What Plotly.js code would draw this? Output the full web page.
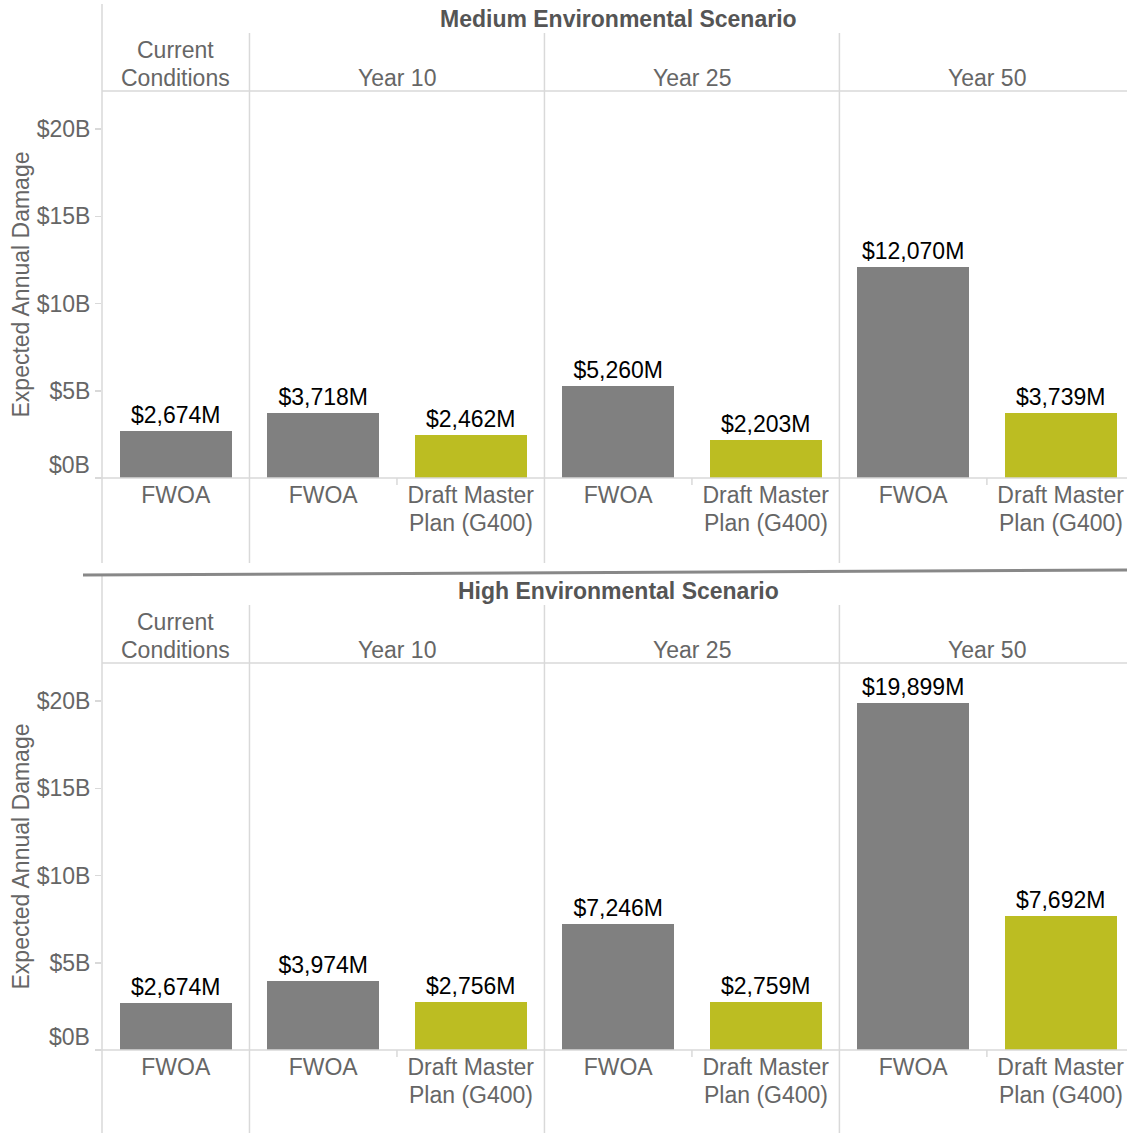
<!DOCTYPE html>
<html>
<head>
<meta charset="utf-8">
<script src="https://cdn.plot.ly/plotly-3.0.1.min.js"></script>
<style>
  html, body { margin: 0; padding: 0; background: #fff; }
  #chart { width: 1127px; height: 1133px; }
</style>
</head>
<body>
<div id="chart"></div>
<script>
// ---- data ----
const scenarios = ['Medium Environmental Scenario', 'High Environmental Scenario'];
const groups = ['Current<br>Conditions', 'Year 10', 'Year 25', 'Year 50'];
const groupOf = [0, 1, 1, 2, 2, 3, 3];
const categories = ['FWOA', 'FWOA', 'Draft Master<br>Plan (G400)', 'FWOA', 'Draft Master<br>Plan (G400)', 'FWOA', 'Draft Master<br>Plan (G400)'];
const mediumValues = [2674, 3718, 2462, 5260, 2203, 12070, 3739];   // $M
const highValues   = [2674, 3974, 2756, 7246, 2759, 19899, 7692];   // $M
const yTickVals = [0, 5000, 10000, 15000, 20000];
const yTickText = ['$0B', '$5B', '$10B', '$15B', '$20B'];
const yTitle = 'Expected Annual Damage';

// ---- styling / layout helpers ----
const W = 1127, H = 1133;
const FONT = 'Arial, "Liberation Sans", sans-serif';
const FS = 23;
const LINE = 27.5;
const GRID = '#d9d9d9';
const TXT = '#666666';
const colorFor = c => c.startsWith('FWOA') ? '#808080' : '#bcbd22';
const px = x => x / W;
const py = y => 1 - y / H;

const xs = categories.map((c, i) => i);
const catLines = categories.map(c => c.split('<br>'));
const groupCenters = groups.map((g, gi) => {
  const idx = xs.filter(i => groupOf[i] === gi);
  return (idx[0] + idx[idx.length - 1]) / 2;
});
const groupBounds = [];
for (let i = 1; i < xs.length; i++) if (groupOf[i] !== groupOf[i - 1]) groupBounds.push(i - 0.5);
const innerBounds = [];
for (let i = 1; i < xs.length; i++) if (groupOf[i] === groupOf[i - 1]) innerBounds.push(i - 0.5);

const panels = [
  { title: 19, hTop: 33, hLine: 91, zero: 478, bottom: 563, leftTop: 4 },
  { title: 591, hTop: 605, hLine: 663, zero: 1050, bottom: 1133, leftTop: 576 }
];
const values = [mediumValues, highValues];
const yRange = [0, 22180];

const traces = [];
const annotations = [];
const shapes = [];

panels.forEach((p, k) => {
  const xa = k === 0 ? 'x' : 'x2';
  const ya = k === 0 ? 'y' : 'y2';
  traces.push({
    type: 'bar',
    x: xs,
    y: values[k],
    xaxis: xa, yaxis: ya,
    width: 0.76,
    marker: { color: categories.map(colorFor) },
    texttemplate: '$%{y:,.0f}M',
    textposition: 'outside',
    textfont: { family: FONT, size: FS, color: '#000' },
    cliponaxis: false,
    hoverinfo: 'skip',
    showlegend: false
  });

  annotations.push({
    xref: 'paper', yref: 'paper', x: px(618), y: py(p.title),
    xanchor: 'center', yanchor: 'middle', showarrow: false,
    text: '<b>' + scenarios[k] + '</b>',
    font: { family: FONT, size: 23, color: '#555' }
  });
  // group headers, one annotation per line, bottom-aligned at header line
  groups.forEach((g, gi) => {
    const lines = g.split('<br>');
    lines.forEach((ln, li) => {
      const fromBottom = lines.length - 1 - li;
      annotations.push({
        xref: xa, yref: 'paper', x: groupCenters[gi],
        y: py(p.hLine - 13.5 - fromBottom * LINE),
        xanchor: 'center', yanchor: 'middle', showarrow: false,
        text: ln, font: { family: FONT, size: FS, color: TXT }
      });
    });
  });
  // second lines of category labels
  catLines.forEach((lines, i) => {
    lines.slice(1).forEach((ln, li) => {
      annotations.push({
        xref: xa, yref: 'paper', x: xs[i], y: py(p.zero + 17 + (li + 1) * LINE),
        xanchor: 'center', yanchor: 'middle', showarrow: false,
        text: ln, font: { family: FONT, size: FS, color: TXT }
      });
    });
  });
  annotations.push({
    xref: 'paper', yref: ya, x: px(92), y: 0, xanchor: 'right', yanchor: 'middle',
    yshift: 13, showarrow: false, text: yTickText[0],
    font: { family: FONT, size: FS, color: TXT }
  });
  annotations.push({
    xref: 'paper', yref: 'paper', x: px(20), y: py((p.hLine + p.zero) / 2),
    xanchor: 'center', yanchor: 'middle', showarrow: false, textangle: -90,
    text: yTitle, font: { family: FONT, size: FS, color: TXT }
  });

  shapes.push({ type: 'line', xref: 'paper', yref: 'paper', x0: px(102), x1: px(102),
    y0: py(p.leftTop), y1: py(p.bottom), line: { color: GRID, width: 1.5 } });
  groupBounds.forEach(b => shapes.push({ type: 'line', xref: xa, yref: 'paper', x0: b, x1: b,
    y0: py(p.hTop), y1: py(p.bottom), line: { color: GRID, width: 1.5 } }));
  shapes.push({ type: 'line', xref: 'paper', yref: 'paper', x0: px(102), x1: 1,
    y0: py(p.hLine), y1: py(p.hLine), line: { color: GRID, width: 1.5 } });
  shapes.push({ type: 'line', xref: 'paper', yref: 'paper', x0: px(95), x1: 1,
    y0: py(p.zero), y1: py(p.zero), line: { color: GRID, width: 1.5 } });
  innerBounds.forEach(b => shapes.push({ type: 'line', xref: xa, yref: 'paper', x0: b, x1: b,
    y0: py(p.zero), y1: py(p.zero + 7), line: { color: GRID, width: 1.5 } }));
});

shapes.push({ type: 'line', xref: 'paper', yref: 'paper', x0: px(83), x1: 1,
  y0: py(575), y1: py(570), line: { color: '#888', width: 3 } });

const xAxisCommon = {
  range: [-0.5, 6.45], tickmode: 'array', tickvals: xs,
  ticktext: catLines.map(l => l[0]),
  showgrid: false, zeroline: false, showline: false, ticks: '',
  tickfont: { family: FONT, size: FS, color: TXT }, ticklabelstandoff: 1, fixedrange: true
};
const yAxisCommon = {
  range: yRange, tickmode: 'array', tickvals: yTickVals,
  ticktext: yTickText.map((t, i) => i === 0 ? '' : t),
  showgrid: false, zeroline: false, showline: false,
  ticks: 'outside', ticklen: 6, tickwidth: 1.5, tickcolor: GRID,
  tickfont: { family: FONT, size: FS, color: TXT }, fixedrange: true
};

const layout = {
  width: W, height: H,
  margin: { l: 0, r: 0, t: 0, b: 0 },
  paper_bgcolor: '#fff', plot_bgcolor: '#fff',
  bargap: 0,
  xaxis: Object.assign({}, xAxisCommon, { domain: [px(102), 1], anchor: 'y' }),
  yaxis: Object.assign({}, yAxisCommon, { domain: [py(478), py(91)], anchor: 'x' }),
  xaxis2: Object.assign({}, xAxisCommon, { domain: [px(102), 1], anchor: 'y2' }),
  yaxis2: Object.assign({}, yAxisCommon, { domain: [py(1050), py(663)], anchor: 'x2' }),
  annotations: annotations,
  shapes: shapes,
  showlegend: false
};

Plotly.newPlot('chart', traces, layout, { staticPlot: true, displayModeBar: false });
</script>
</body>
</html>
